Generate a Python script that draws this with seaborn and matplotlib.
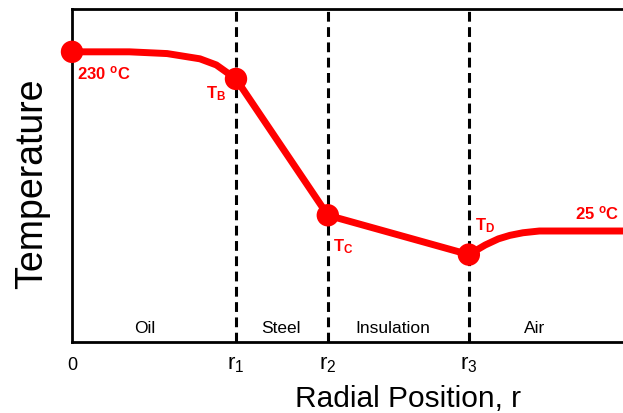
import matplotlib
matplotlib.use("Agg")
import matplotlib.pyplot as plt
import seaborn as sns
import pandas as pd

# ---- data ----
profile_r = [0, 0.35, 0.58, 0.68, 0.78, 0.88, 1.0, 1.56, 2.42, 2.52, 2.6, 2.67, 2.75, 2.85, 3.4]
profile_T = [230, 230, 228, 225, 222, 215, 199, 43, -2, 9, 16, 20, 23, 25, 25]
node_r = [0, 1.0, 1.56, 2.42]
node_T = [230, 199, 43, -2]
boundaries = [1.0, 1.56, 2.42]
tick_pos = [0, 1.0, 1.56, 2.42]
tick_labels = ["0", r"r$_1$", r"r$_2$", r"r$_3$"]
regions = ["Oil", "Steel", "Insulation", "Air"]
region_x = [0.445, 1.274, 1.957, 2.823]
node_labels = [r"230 $^\mathregular{o}$C", r"T$_B$", r"T$_C$", r"T$_D$", r"25 $^\mathregular{o}$C"]
node_label_r = [0.03, 0.82, 1.59, 2.457, 3.07]
node_label_T = [198, 177, 2, 26, 38]

sns.set_theme(style="white")
plt.rcParams["font.family"] = ["Liberation Sans", "DejaVu Sans"]
plt.rcParams["mathtext.default"] = "regular"

RED = "#FF0000"
df = pd.DataFrame({"r": profile_r, "T": profile_T})
nodes = pd.DataFrame({"r": node_r, "T": node_T})

fig = plt.figure(figsize=(6.23, 4.13), dpi=100)
ax = fig.add_axes([72 / 623, (413 - 342) / 413, 1 - 72 / 623, (342 - 9) / 413])

for b in boundaries:
    ax.axvline(b, color="black", lw=2.2, ls=(0, (3.2, 1.8)), zorder=1)

sns.lineplot(data=df, x="r", y="T", sort=False, estimator=None, ax=ax,
             color=RED, lw=5, zorder=3)
for ln in ax.lines[-1:]:
    ln.set_solid_joinstyle("round")
    ln.set_solid_capstyle("butt")
sns.scatterplot(data=nodes, x="r", y="T", ax=ax, color=RED, s=260,
                edgecolor="none", zorder=4, clip_on=False)

for txt, x, y in zip(node_labels, node_label_r, node_label_T):
    ax.text(x, y, txt, color=RED, fontsize=12, fontweight="bold",
            ha="left", va="baseline", zorder=5, clip_on=False)

for txt, x in zip(regions, region_x):
    ax.text(x, 9 / 333, txt, transform=ax.get_xaxis_transform(),
            ha="center", va="baseline", fontsize=12.5, color="black")

ax.set_xlim(0, 3.36)
ax.set_ylim(-102, 279)
ax.set_yticks([])
ax.set_xticks(tick_pos)
ax.set_xticklabels(tick_labels)
ax.tick_params(axis="x", length=0, pad=20, labelcolor="black")
for i, lab in enumerate(ax.get_xticklabels()):
    lab.set_va("baseline")
    lab.set_color("black")
    lab.set_fontsize(13 if i == 0 else 16)

for side in ["left", "bottom", "top"]:
    ax.spines[side].set_visible(True)
    ax.spines[side].set_color("black")
    ax.spines[side].set_linewidth(2)
ax.spines["right"].set_visible(False)

ax.set_xlabel("Radial Position, r", fontsize=21.5, color="black")
ax.xaxis.set_label_coords(0.61, -0.195)
ax.xaxis.label.set_va("baseline")
ax.set_ylabel("Temperature", fontsize=27, color="black")
ax.yaxis.set_label_coords(-0.0544, 0.474)
ax.yaxis.label.set_va("baseline")

fig.savefig("out.png", dpi=100)
